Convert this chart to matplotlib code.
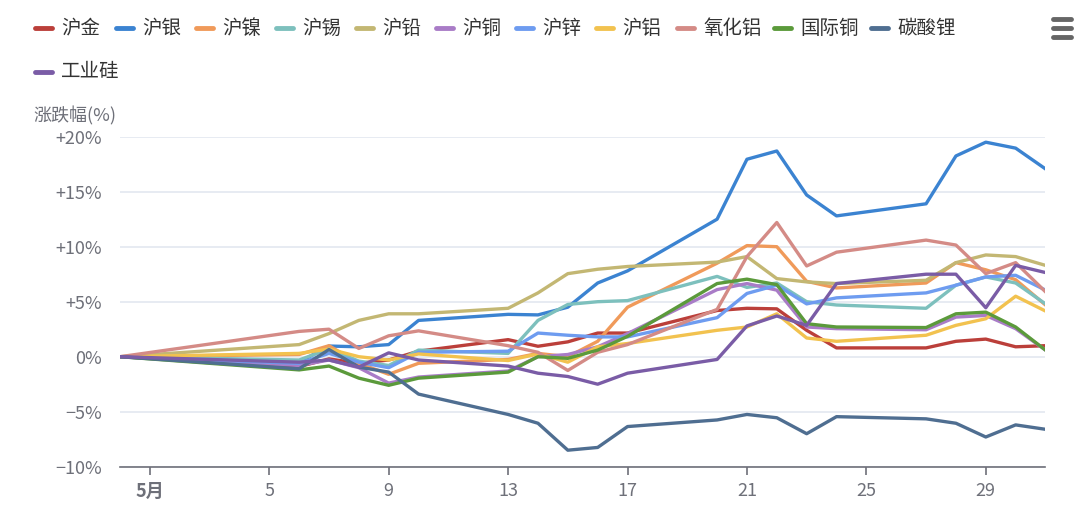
import matplotlib
matplotlib.use("Agg")
import matplotlib.pyplot as plt
from matplotlib.lines import Line2D

plt.rcParams['font.family'] = ['Noto Sans CJK SC', 'DejaVu Sans']

# 交易日 (0 = 4月30日基准)
days = [0, 6, 7, 8, 9, 10, 13, 14, 15, 16, 17, 20, 21, 22, 23, 24, 27, 28, 29, 30, 31]

names = ["沪金", "沪银", "沪镍", "沪锡", "沪铅", "沪铜", "沪锌", "沪铝",
         "氧化铝", "国际铜", "碳酸锂", "工业硅"]
colors = ["#bb3f3a", "#3b83d1", "#f09a5a", "#7dc0bd", "#c3b773", "#a97cc7",
          "#6e9cf0", "#f2c24f", "#d48b86", "#5b9a3b", "#4f6e91", "#7a5ca6"]

hujin = [0, -0.9, -0.2, -0.6, -0.3, 0.5, 1.55, 0.95, 1.35, 2.15, 2.15, 4.2, 4.4, 4.35, 2.4, 0.8, 0.8, 1.4, 1.6, 0.9, 1.0]
huyin = [0, -0.5, 0.97, 0.9, 1.1, 3.3, 3.85, 3.8, 4.5, 6.7, 7.8, 12.5, 17.95, 18.7, 14.7, 12.8, 13.9, 18.25, 19.5, 18.96, 17.07]
hunie = [0, 0.2, 1.0, -0.6, -1.6, -0.6, -0.25, 0.3, 0.0, 1.4, 4.5, 8.5, 10.1, 10.0, 6.85, 6.25, 6.7, 8.55, 7.9, 7.0, 4.7]
huxi = [0, -0.3, 0.7, -0.4, -0.8, 0.6, 0.3, 3.3, 4.75, 5.0, 5.1, 7.3, 6.3, 6.7, 5.0, 4.7, 4.4, 6.5, 7.25, 6.7, 4.8]
huqian = [0, 1.1, 2.1, 3.3, 3.9, 3.9, 4.4, 5.8, 7.55, 7.95, 8.2, 8.6, 9.1, 7.1, 6.8, 6.65, 6.95, 8.55, 9.25, 9.1, 8.3]
hutong = [0, -0.8, -0.3, -1.0, -2.4, -1.85, -1.3, 0.0, 0.2, 0.9, 2.1, 6.1, 6.65, 6.05, 2.7, 2.55, 2.45, 3.6, 3.75, 2.55, 0.6]
huxin = [0, -0.6, 0.3, -0.5, -1.0, 0.4, 0.5, 2.15, 1.95, 1.8, 1.8, 3.55, 5.75, 6.5, 4.8, 5.35, 5.8, 6.5, 7.25, 7.4, 6.05]
hulv = [0, 0.3, 0.7, 0.0, -0.3, 0.25, -0.35, 0.25, -0.5, 0.9, 1.2, 2.4, 2.7, 3.9, 1.7, 1.4, 1.95, 2.85, 3.45, 5.5, 4.15]
yanghualv = [0, 2.3, 2.5, 0.75, 1.9, 2.35, 1.0, 0.4, -1.25, 0.4, 1.1, 4.3, 9.1, 12.2, 8.25, 9.5, 10.6, 10.15, 7.55, 8.55, 5.9]
guojitong = [0, -1.2, -0.85, -1.95, -2.6, -1.95, -1.4, 0.0, -0.15, 0.6, 1.85, 6.65, 7.05, 6.55, 3.0, 2.7, 2.65, 3.9, 4.05, 2.7, 0.6]
tansuanli = [0, -1.1, 0.65, -0.95, -1.4, -3.4, -5.25, -6.05, -8.5, -8.25, -6.35, -5.75, -5.25, -5.55, -7.0, -5.45, -5.65, -6.05, -7.3, -6.2, -6.6]
gongyegui = [0, -0.5, -0.3, -0.95, 0.35, -0.3, -0.85, -1.5, -1.8, -2.5, -1.5, -0.25, 2.8, 3.7, 2.85, 6.65, 7.5, 7.5, 4.45, 8.3, 7.65]

series = [hujin, huyin, hunie, huxi, huqian, hutong, huxin, hulv,
          yanghualv, guojitong, tansuanli, gongyegui]

xticks = [1, 5, 9, 13, 17, 21, 25, 29]
xlabels = ["5月", "5", "9", "13", "17", "21", "25", "29"]
yticks = [-10, -5, 0, 5, 10, 15, 20]
ylabels = ["−10%", "−5%", "0%", "+5%", "+10%", "+15%", "+20%"]

fig = plt.figure(figsize=(10.8, 5.15), dpi=100)
ax = fig.add_axes([120 / 1080, 1 - 466.7 / 515, (1045.5 - 120) / 1080, (466.7 - 136.7) / 515])

for name, c, vals in zip(names, colors, series):
    ax.plot(days, vals, color=c, lw=2.4, solid_joinstyle="round", label=name, zorder=3)

ax.set_xlim(0, 31)
ax.set_ylim(-10, 20)
ax.set_yticks(yticks)
ax.set_yticklabels(ylabels)
ax.set_xticks(xticks)
ax.set_xticklabels(xlabels)
ax.get_xticklabels()[0].set_fontweight("bold")
ax.grid(axis="y", color="#e3e7f0", lw=1.2, zorder=0)
for s in ["top", "right", "left"]:
    ax.spines[s].set_visible(False)
ax.spines["bottom"].set_color("#6e7079")
ax.spines["bottom"].set_linewidth(1.2)
ax.tick_params(axis="y", length=0, pad=13, labelsize=13, labelcolor="#6e7079")
ax.tick_params(axis="x", length=6, width=1.2, color="#6e7079", pad=5,
               labelsize=13, labelcolor="#6e7079")

fig.text(33 / 1080, 1 - 116 / 515, "涨跌幅(%)", fontsize=13, color="#6e7079",
         va="center", ha="left")

# 图例
leg_x = [35, 116, 196, 276, 356, 436, 516, 596, 677, 774, 871, 35]
leg_y = [28] * 11 + [72]
for name, c, lx, ly in zip(names, colors, leg_x, leg_y):
    yy = 1 - ly / 515
    fig.add_artist(Line2D([lx / 1080, (lx + 17) / 1080], [yy, yy], color=c, lw=3.5,
                          solid_capstyle="round", transform=fig.transFigure))
    fig.text((lx + 26) / 1080, yy, name, fontsize=14, color="#333333",
             va="center", ha="left")

# 菜单图标
for yy in [19, 28, 37]:
    fig.add_artist(Line2D([1053 / 1080, 1071 / 1080], [1 - yy / 515, 1 - yy / 515],
                          color="#666666", lw=3.5, solid_capstyle="round",
                          transform=fig.transFigure))

fig.savefig("out.png", dpi=100)
